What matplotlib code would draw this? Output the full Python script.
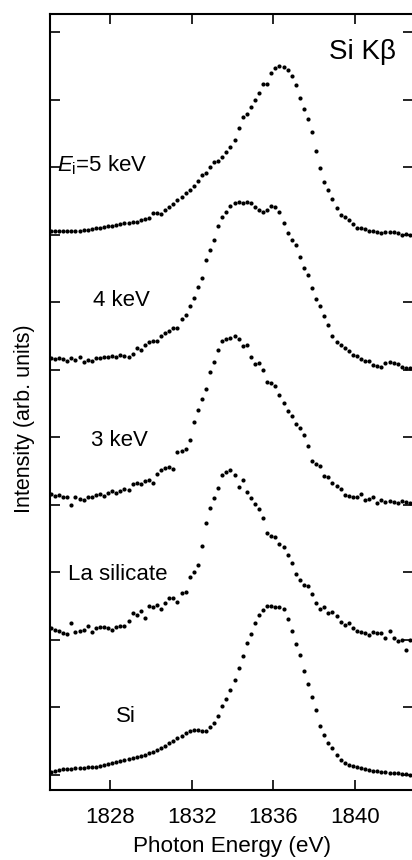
import numpy as np
import matplotlib
matplotlib.use("Agg")
import matplotlib.pyplot as plt

plt.rcParams['font.family'] = ['Liberation Sans', 'DejaVu Sans']
plt.rcParams['mathtext.fontset'] = 'custom'
plt.rcParams['mathtext.rm'] = 'Liberation Sans'
plt.rcParams['mathtext.it'] = 'Liberation Sans:italic'

# Energía de los fotones (eV), paso de 0.2 eV
energia = np.round(np.arange(1825.1, 1842.75, 0.2), 1)

# Intensidades (unidades arbitrarias, ya desplazadas verticalmente)
int_5kev = [559, 559, 559, 559, 559, 559, 559, 559, 560, 560,
            561, 562, 562, 563, 564, 564, 565, 566, 567, 567,
            568, 568, 570, 571, 572, 577, 577, 576, 580, 583,
            586, 590, 593, 597, 600, 604, 609, 615, 617, 623,
            628, 629, 633, 638, 643, 650, 662, 673, 676, 683,
            690, 697, 706, 706, 717, 722, 724, 723, 720, 714,
            705, 692, 681, 671, 658, 639, 622, 608, 600, 591,
            582, 575, 573, 570, 566, 562, 562, 561, 559, 559,
            558, 557, 558, 558, 558, 557, 555, 556, 555]

int_4kev = [432, 431, 432, 431, 429, 432, 430, 433, 428, 430,
            429, 432, 432, 433, 433, 434, 433, 435, 434, 433,
            436, 442, 440, 445, 448, 449, 449, 454, 457, 459,
            462, 462, 471, 475, 484, 492, 503, 512, 530, 540,
            550, 564, 573, 578, 584, 587, 588, 587, 588, 587,
            583, 580, 578, 580, 584, 583, 578, 567, 557, 550,
            545, 533, 522, 515, 502, 491, 484, 474, 465, 454,
            448, 445, 442, 439, 435, 434, 431, 429, 429, 425,
            424, 423, 427, 428, 427, 426, 423, 422, 422]

int_3kev = [296, 294, 295, 293, 293, 285, 293, 291, 290, 293,
            293, 295, 296, 294, 297, 299, 297, 299, 301, 300,
            306, 307, 306, 309, 310, 307, 316, 320, 322, 323,
            321, 338, 339, 341, 350, 368, 380, 391, 401, 418,
            428, 440, 449, 451, 452, 454, 451, 444, 445, 433,
            426, 427, 420, 408, 407, 404, 395, 387, 379, 374,
            366, 362, 355, 344, 329, 326, 324, 314, 313, 307,
            304, 301, 295, 294, 293, 293, 296, 290, 291, 293,
            287, 290, 288, 289, 288, 287, 289, 288, 287]

int_la_silicato = [162, 160, 159, 157, 156, 167, 158, 159, 160, 164,
                   158, 162, 163, 163, 162, 160, 163, 164, 164, 169,
                   177, 175, 179, 172, 184, 183, 185, 181, 187, 192,
                   192, 188, 197, 198, 213, 218, 225, 244, 267, 282,
                   292, 302, 315, 318, 320, 315, 303, 310, 298, 292,
                   286, 281, 272, 257, 254, 253, 246, 243, 235, 227,
                   216, 210, 205, 204, 196, 187, 181, 183, 177, 178,
                   174, 168, 165, 167, 162, 159, 158, 157, 155, 158,
                   157, 157, 152, 159, 152, 149, 150, 140, 150]

int_si = [18, 19, 20, 21, 21, 21, 22, 22, 22, 23,
          23, 23, 24, 25, 26, 27, 28, 29, 30, 31,
          32, 33, 34, 35, 37, 38, 40, 42, 44, 47,
          49, 52, 54, 57, 59, 60, 60, 59, 59, 63,
          67, 74, 84, 91, 100, 110, 122, 134, 147, 156,
          167, 175, 180, 184, 184, 183, 183, 181, 171, 159,
          146, 135, 119, 106, 93, 80, 64, 55, 47, 42,
          35, 30, 27, 25, 24, 23, 22, 21, 20, 19,
          19, 18, 18, 17, 17, 17, 16, 16, 15]

espectros = [int_5kev, int_4kev, int_3kev, int_la_silicato, int_si]

# Etiquetas de cada espectro y su posición (x, y en unidades de datos)
etiquetas = [r'$\mathit{E}_{\mathrm{i}}$=5 keV', '4 keV', '3 keV', 'La silicate', 'Si']
pos_etiquetas = [(1825.4, 625), (1827.15, 489), (1827.05, 350), (1825.95, 216), (1828.3, 74)]

marcas_x = [1828, 1832, 1836, 1840]
marcas_y = np.arange(15.5, 776, 67.5)


def dibujar():
    fig = plt.figure(figsize=(4.12, 8.6), dpi=100)
    ax = fig.add_axes([50 / 412, 70 / 860, 363 / 412, 776 / 860])

    for valores in espectros:
        ax.plot(energia, valores, 'o', color='black', markersize=3.0, markeredgewidth=0)

    for texto, (px, py) in zip(etiquetas, pos_etiquetas):
        ax.text(px, py, texto, fontsize=16, ha='left', va='center')

    ax.text(1838.75, 738, 'Si K\u03b2', fontsize=20, ha='left', va='center')

    ax.set_xlim(1825.05, 1842.85)
    ax.set_ylim(0, 776)
    ax.set_xticks(marcas_x)
    ax.set_yticks(marcas_y)
    ax.set_yticklabels([])
    ax.tick_params(axis='both', direction='in', length=7, width=1.2,
                   top=True, right=True, labelsize=16)
    ax.tick_params(axis='x', pad=12)

    for lado in ax.spines.values():
        lado.set_linewidth(1.5)

    ax.set_xlabel('Photon Energy (eV)', fontsize=16.2, labelpad=6)
    ax.set_ylabel('Intensity (arb. units)', fontsize=15.5)
    ax.yaxis.set_label_coords(-0.042, 0.479)

    fig.savefig('out.png', dpi=100)


if __name__ == "__main__":
    dibujar()
